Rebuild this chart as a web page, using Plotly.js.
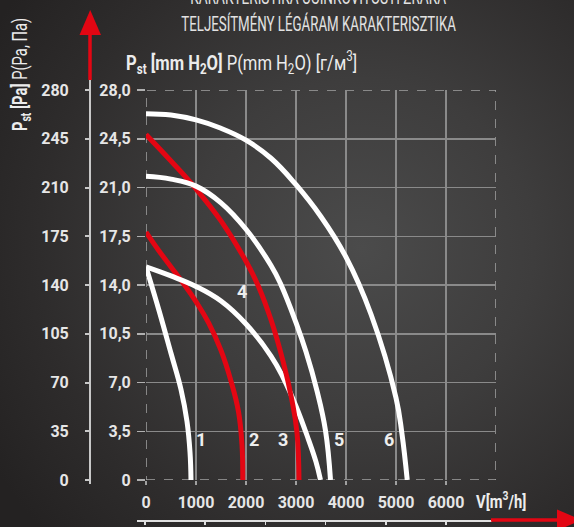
<!DOCTYPE html>
<html><head><meta charset="utf-8">
<script src="https://cdn.plot.ly/plotly-3.0.1.min.js"></script>
<style>
html,body{margin:0;padding:0;width:574px;height:527px;overflow:hidden;}
body{background: radial-gradient(ellipse 75% 80% at 63% 47%, #4b4b4b 0%, #3e3d3d 40%, #2e2c2c 75%, #242222 100%);}
#chart{width:574px;height:527px;}
</style></head><body><div id="chart"></div>
<script>
// ---- data ----
const flowTicks = [0, 1000, 2000, 3000, 4000, 5000, 6000];
const flowTickText = ['0', '1000', '2000', '3000', '4000', '5000', '6000'];
const mmTicks = [0, 3.5, 7, 10.5, 14, 17.5, 21, 24.5, 28];
const mmTickText = ['0', '3,5', '7,0', '10,5', '14,0', '17,5', '21,0', '24,5', '28,0'];
const paTicks = [0, 35, 70, 105, 140, 175, 210, 245, 280];
const paTickText = ['0', '35', '70', '105', '140', '175', '210', '245', '280'];
const lowerScaleTicks = [0, 1, 2, 3, 4, 5];

const curve1X = [0, 250, 500, 700, 820, 880, 900];
const curve1Y = [15.3, 12.3, 9.1, 6.5, 4.2, 2.0, 0];
const curve2X = [0, 250, 500, 750, 1000, 1250, 1500, 1700, 1850, 1920, 1935];
const curve2Y = [17.8, 16.5, 15.3, 14.1, 12.8, 11.3, 9.3, 7.1, 4.9, 2.5, 0];
const curve3X = [0, 500, 1000, 1500, 2000, 2250, 2500, 2750, 2920, 3020, 3060];
const curve3Y = [24.8, 22.9, 20.9, 18.6, 15.7, 13.9, 11.5, 8.4, 5.7, 3.4, 0];
const curve4X = [0, 500, 1000, 1500, 2000, 2500, 2750, 3000, 3250, 3400, 3490];
const curve4Y = [15.3, 14.65, 13.9, 12.85, 11.2, 8.9, 7.3, 5.3, 2.9, 1.3, 0];
const curve5X = [0, 500, 1000, 1500, 2000, 2500, 2690, 3000, 3200, 3420, 3590, 3690];
const curve5Y = [21.8, 21.6, 21.1, 19.9, 18.0, 15.4, 14.1, 11.3, 9.2, 6.4, 3.55, 0];
const curve6X = [0, 500, 1000, 1500, 2000, 2500, 3000, 3500, 4000, 4500, 5000, 5120, 5225];
const curve6Y = [26.3, 26.2, 25.85, 25.25, 24.4, 23.1, 21.2, 18.9, 16.0, 11.9, 5.9, 3.3, 0];

const curveLabels = ['1', '2', '3', '4', '5', '6'];

// ---- styling helpers ----
const W = 574, H = 527;
const px = v => v / W;
const py = v => 1 - v / H;
const RED = '#e30613';
const WHITE = '#ffffff';
const NUMFONT = {family: 'Roboto, "DejaVu Sans", sans-serif', size: 16, color: '#e6e6e6', weight: 'bold'};
const COND = 'Roboto, "Noto Sans", sans-serif';

function curve(x, y, color) {
  return {type: 'scatter', mode: 'lines', x: x, y: y, xaxis: 'x', yaxis: 'y',
    line: {color: color, width: 5, shape: 'spline', smoothing: 1.2},
    hoverinfo: 'skip', showlegend: false};
}

const traces = [
  curve(curve1X, curve1Y, WHITE),
  curve(curve2X, curve2Y, RED),
  curve(curve4X, curve4Y, WHITE),
  curve(curve3X, curve3Y, RED),
  curve(curve5X, curve5Y, WHITE),
  curve(curve6X, curve6Y, WHITE),
  {type: 'scatter', mode: 'markers', x: [0], y: [-100], xaxis: 'x', yaxis: 'y2',
   marker: {opacity: 0}, hoverinfo: 'skip', showlegend: false},
  {type: 'scatter', mode: 'markers', x: [0], y: [-10], xaxis: 'x2', yaxis: 'y3',
   marker: {opacity: 0}, hoverinfo: 'skip', showlegend: false}
];

const labelPos = [[1090, 2.9], [2150, 2.9], [2740, 2.9], [1920, 13.55], [3850, 2.9], [4850, 2.9]];
const annotations = curveLabels.map((t, i) => ({
  text: t, x: labelPos[i][0], y: labelPos[i][1], xref: 'x', yref: 'y', showarrow: false,
  font: {family: 'Roboto, sans-serif', size: 18, color: '#eeeeee', weight: 'bold'}
}));

// horizontal squeeze factors for the condensed titles (by annotation index)
const squeeze = {};
function addTitle(a, f) { squeeze[annotations.length] = f; annotations.push(a); }

addTitle({text: 'KARAKTERISTIKA UČINKOVITOSTI ZRAKA', x: px(318), y: py(-3), xref: 'paper', yref: 'paper',
   showarrow: false, xanchor: 'center', yanchor: 'middle', font: {family: COND, size: 20, color: '#e2e2e2'}}, 0.68);
addTitle({text: 'TELJESÍTMÉNY LÉGÁRAM KARAKTERISZTIKA', x: px(318), y: py(24), xref: 'paper', yref: 'paper',
   showarrow: false, xanchor: 'center', yanchor: 'middle', font: {family: COND, size: 20, color: '#e2e2e2'}}, 0.665);
addTitle({text: '<b>P<sub>st</sub> [mm H<sub>2</sub>O]</b> P(mm H<sub>2</sub>O) [г/м<sup>3</sup>]', x: px(124), y: py(62),
   xref: 'paper', yref: 'paper', showarrow: false, xanchor: 'left', yanchor: 'middle',
   font: {family: COND, size: 21, color: '#ececec'}}, 0.79);
addTitle({text: '<b>P<sub>st</sub> [Pa]</b> P(Pa, Па)', x: px(21), y: py(75), xref: 'paper', yref: 'paper',
   showarrow: false, textangle: -90, xanchor: 'center', yanchor: 'middle',
   font: {family: COND, size: 20, color: '#ececec'}}, 0.74);
addTitle({text: '<b>V[m<sup>3</sup>/h]</b>', x: px(474), y: py(500), xref: 'paper', yref: 'paper',
   showarrow: false, xanchor: 'left', yanchor: 'middle', font: {family: COND, size: 18, color: '#ececec'}}, 0.82);

const shapes = [
  {type: 'rect', xref: 'x', yref: 'y', x0: 0, x1: 7000, y0: 0, y1: 28, layer: 'below',
   line: {color: '#a3a3a3', width: 1.5, dash: 'dash'}},
  {type: 'line', xref: 'paper', yref: 'paper', x0: px(90), x1: px(90), y0: py(80), y1: py(33),
   line: {color: RED, width: 3.5}},
  {type: 'path', xref: 'paper', yref: 'paper',
   path: `M ${px(79.5)} ${py(35)} L ${px(101)} ${py(35)} L ${px(90.2)} ${py(10)} Z`,
   fillcolor: RED, line: {width: 0}},
  {type: 'line', xref: 'paper', yref: 'paper', x0: px(90), x1: px(90), y0: py(80), y1: py(91),
   line: {color: '#c8c8c8', width: 2}},
  {type: 'line', xref: 'paper', yref: 'paper', x0: px(90), x1: px(90), y0: py(479), y1: py(484),
   line: {color: '#c8c8c8', width: 2}},
  {type: 'line', xref: 'paper', yref: 'paper', x0: px(491), x1: px(559), y0: py(520), y1: py(520),
   line: {color: RED, width: 3.5}},
  {type: 'path', xref: 'paper', yref: 'paper',
   path: `M ${px(557)} ${py(509.5)} L ${px(557)} ${py(530.5)} L ${px(582)} ${py(520)} Z`,
   fillcolor: RED, line: {width: 0}}
];

const layout = {
  width: W, height: H, margin: {l: 0, r: 0, t: 0, b: 0, pad: 0},
  paper_bgcolor: 'rgba(0,0,0,0)', plot_bgcolor: 'rgba(0,0,0,0)',
  showlegend: false, hovermode: false,
  xaxis: {domain: [px(146), px(496)], range: [0, 7000], anchor: 'y',
    tickmode: 'array', tickvals: flowTicks, ticktext: flowTickText,
    ticks: 'outside', ticklen: 4, tickwidth: 1.5, tickcolor: '#a0a0a0',
    showgrid: true, gridcolor: '#8a8a8a', gridwidth: 1.5, zeroline: false,
    showline: true, linecolor: 'rgba(0,0,0,0)', linewidth: 1,
    tickfont: NUMFONT, ticklabelstandoff: 4, fixedrange: true},
  yaxis: {domain: [1 - 480 / H, 1 - 90 / H], range: [0, 28], anchor: 'x',
    tickmode: 'array', tickvals: mmTicks, ticktext: mmTickText,
    ticks: 'outside', ticklen: 8, tickwidth: 1.5, tickcolor: '#b0b0b0',
    showgrid: true, gridcolor: '#8a8a8a', gridwidth: 1.5, zeroline: false,
    showline: true, linecolor: 'rgba(0,0,0,0)', linewidth: 1,
    tickfont: NUMFONT, ticklabelstandoff: 3, fixedrange: true},
  yaxis2: {overlaying: 'y', anchor: 'free', position: px(90), side: 'left', range: [0, 280],
    tickmode: 'array', tickvals: paTicks, ticktext: paTickText,
    ticks: 'outside', ticklen: 4, tickwidth: 2, tickcolor: '#c8c8c8',
    showline: true, linecolor: '#c8c8c8', linewidth: 2,
    showgrid: false, zeroline: false, tickfont: NUMFONT, ticklabelstandoff: 13, fixedrange: true},
  xaxis2: {domain: [px(137), px(492)], range: [-8 / 60.2, 347 / 60.2], anchor: 'y3',
    tickmode: 'array', tickvals: lowerScaleTicks, showticklabels: false,
    ticks: 'outside', ticklen: 3, tickwidth: 1.5, tickcolor: '#e0e0e0',
    showline: true, linecolor: '#e0e0e0', linewidth: 2,
    showgrid: false, zeroline: false, fixedrange: true},
  yaxis3: {domain: [7 / H, 8 / H], anchor: 'x2', range: [0, 1], visible: false, fixedrange: true},
  annotations: annotations,
  shapes: shapes
};

function condenseTitles() {
  document.querySelectorAll('g.annotation').forEach(function (g) {
    const idx = g.getAttribute('data-index');
    const f = squeeze[idx];
    if (!f) return;
    const t = g.querySelector('text.annotation-text');
    if (!t) return;
    const bb = t.getBBox();
    const a = annotations[idx];
    const cx = (a.xanchor === 'left' && !a.textangle) ? bb.x : bb.x + bb.width / 2;
    const prev = t.getAttribute('transform') || '';
    t.setAttribute('transform', prev + ` translate(${cx},0) scale(${f},1) translate(${-cx},0)`);
  });
}

Plotly.newPlot('chart', traces, layout, {displayModeBar: false, staticPlot: true}).then(condenseTitles);
</script>
</body></html>
